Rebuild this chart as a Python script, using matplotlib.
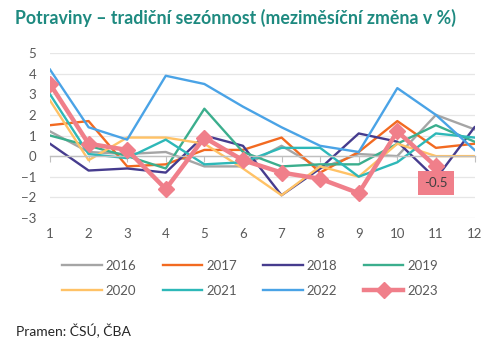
import matplotlib
matplotlib.use("Agg")
import matplotlib.pyplot as plt

plt.rcParams['font.family'] = ['Lato', 'DejaVu Sans']

months = [1, 2, 3, 4, 5, 6, 7, 8, 9, 10, 11, 12]
y2016 = [1.2, 0.2, 0.1, 0.2, -0.5, -0.5, 0.5, -0.6, 0.1, 0.0, 2.0, 1.3]
y2017 = [1.5, 1.7, -0.5, -0.4, 0.3, 0.3, 0.9, -0.8, 0.2, 1.7, 0.4, 0.6]
y2018 = [0.6, -0.7, -0.6, -0.8, 1.0, 0.5, -1.9, -0.6, 1.1, 0.7, -1.1, 1.4]
y2019 = [1.0, 0.5, 0.0, -0.6, 2.3, 0.2, -0.5, -0.4, -0.4, 0.6, 1.5, 0.7]
y2020 = [2.7, -0.2, 0.9, 0.9, 0.6, -0.6, -1.9, -0.5, -1.0, 0.6, 0.0, 0.0]
y2021 = [3.0, 0.1, -0.1, 0.8, -0.4, -0.3, 0.4, 0.4, -1.0, -0.3, 1.1, 0.9]
y2022 = [4.2, 1.4, 0.8, 3.9, 3.5, 2.4, 1.4, 0.5, 0.2, 3.3, 2.0, 0.3]
m2023 = [1, 2, 3, 4, 5, 6, 7, 8, 9, 10, 11]
y2023 = [3.5, 0.6, 0.3, -1.6, 0.9, -0.2, -0.8, -1.1, -1.8, 1.2, -0.5]

series = [
    ("2016", y2016, "#A5A5A5"),
    ("2017", y2017, "#F26A21"),
    ("2018", y2018, "#463C8E"),
    ("2019", y2019, "#3BAE8D"),
    ("2020", y2020, "#FFC266"),
    ("2021", y2021, "#2EB8B8"),
    ("2022", y2022, "#4AA3E6"),
]
c2023 = "#F07F8A"

fig = plt.figure(figsize=(5.0, 3.47), dpi=100)
ax = fig.add_axes([0.1, 0.372, 0.849, 0.475])

for name, ys, col in series:
    ax.plot(months, ys, color=col, lw=1.7, label=name)
ax.plot(m2023, y2023, color=c2023, lw=3.2, marker='D', ms=8, label="2023", zorder=5)

# data label
ax.annotate("-0.5", xy=(m2023[-1], y2023[-1]), xytext=(0, -12), textcoords='offset points',
            ha='center', va='center', fontsize=9.5, color='#404040',
            bbox=dict(boxstyle='square,pad=0.45', fc=c2023, ec='none'), zorder=6)

ax.set_xlim(1, 12)
ax.set_ylim(-3, 5)
ax.set_yticks(range(-3, 6))
ax.grid(axis='y', color='#E6E6E6', lw=0.9)
ax.set_axisbelow(True)
for s in ['top', 'right', 'left']:
    ax.spines[s].set_visible(False)
ax.spines['bottom'].set_position(('data', 0))
ax.spines['bottom'].set_color('#BFBFBF')
ax.spines['bottom'].set_linewidth(1.0)
ax.set_xticks(months)
ax.tick_params(axis='x', direction='out', length=4, color='#BFBFBF', labelbottom=False)
ax.tick_params(axis='y', length=0, labelsize=9.5, labelcolor='#595959', pad=10)

sec = ax.secondary_xaxis('bottom')
sec.set_xticks(months)
sec.tick_params(length=0, labelsize=9.5, labelcolor='#595959', pad=7)
for s in sec.spines.values():
    s.set_visible(False)

handles, labels = ax.get_legend_handles_labels()
order = [0, 4, 1, 5, 2, 6, 3, 7]
fig.legend([handles[i] for i in order], [labels[i] for i in order],
           loc='upper center', bbox_to_anchor=(0.5, 0.285), ncol=4,
           frameon=False, fontsize=9.5, handlelength=3.0, columnspacing=2.0,
           handletextpad=0.3, labelcolor='#595959', labelspacing=0.95)

fig.text(0.03, 0.947, "Potraviny – tradiční sezónnost (meziměsíční změna v %)",
         fontsize=12.8, fontweight='bold', color='#1E8A80', va='center', ha='left')
fig.text(0.032, 0.045, "Pramen: ČSÚ, ČBA", fontsize=10, color='#262626', va='center', ha='left')

fig.savefig("out.png", dpi=100)
